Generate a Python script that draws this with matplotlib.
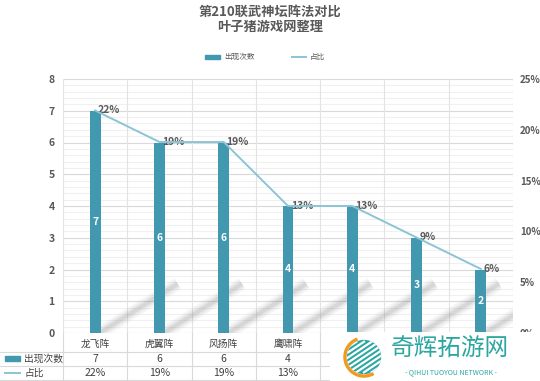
import numpy as np
import matplotlib.pyplot as plt
from matplotlib.transforms import blended_transform_factory
from matplotlib.patches import Rectangle, Circle, Arc

plt.rcParams['font.family'] = ['Noto Sans CJK SC', 'DejaVu Sans']

categories = ['龙飞阵', '虎翼阵', '风扬阵', '鹰啸阵', '蛇蟠阵', '鸟翔阵', '云垂阵']
counts = [7, 6, 6, 4, 4, 3, 2]
share = [0.219, 0.188, 0.188, 0.125, 0.125, 0.094, 0.063]
share_labels = ['22%', '19%', '19%', '13%', '13%', '9%', '6%']

bar_color = '#4198AF'
line_color = '#8DC4D5'
text_gray = '#595959'
grid_major = '#D9D9D9'
grid_minor = '#F0F0F0'

W, H = 540, 381
fig = plt.figure(figsize=(W / 100, H / 100), dpi=100)
ax = fig.add_axes([63 / W, 48 / H, 450 / W, 254 / H])

x = np.arange(len(categories))
ax.set_xlim(-0.5, len(categories) - 0.5)
ax.set_ylim(0, 8)

# gridlines
for v in np.arange(0, 8.01, 0.2):
    major = abs(v - round(v)) < 1e-6
    ax.axhline(v, color=grid_major if major else grid_minor, lw=0.8, zorder=0)
for b in np.arange(-0.5, len(categories), 1):
    ax.axvline(b, color='#E3E3E3', lw=0.8, zorder=0)

# diagonal shadows at bar bases
bw = 0.17
for i, c in enumerate(counts):
    x0 = i + bw / 2
    for lw, a in [(9, 0.07), (6, 0.10), (3, 0.16)]:
        ax.plot([x0, x0 + 1.2], [0.02, 1.55], color='#7F7F7F', lw=lw, alpha=a,
                solid_capstyle='butt', zorder=1)

bars = ax.bar(x, counts, width=bw, color=bar_color, zorder=3)
for i, c in enumerate(counts):
    ax.text(i, c / 2, str(c), color='white', fontsize=7.5, fontweight='bold',
            ha='center', va='center', zorder=4)

ax.set_yticks(range(0, 9))
ax.tick_params(axis='y', length=0, labelsize=7.5, labelcolor=text_gray, pad=6)
for t in ax.get_yticklabels():
    t.set_fontweight('bold')
ax.set_xticks([])
for s in ax.spines.values():
    s.set_visible(False)

ax2 = ax.twinx()
ax2.set_ylim(0, 0.25)
ax2.plot(x, share, color=line_color, lw=1.4, zorder=5)
for i, (v, lab) in enumerate(zip(share, share_labels)):
    ax2.annotate(lab, (i, v), xytext=(2, 0), textcoords='offset points',
                 fontsize=7.5, color=text_gray, fontweight='bold', va='center', ha='left')
pct_ticks = np.arange(0, 0.26, 0.05)
ax2.set_yticks(pct_ticks)
ax2.set_yticklabels([f'{int(round(v * 100))}%' for v in pct_ticks])
ax2.tick_params(axis='y', length=0, labelsize=7, labelcolor=text_gray, pad=5)
for t in ax2.get_yticklabels():
    t.set_fontweight('bold')
for s in ax2.spines.values():
    s.set_visible(False)

# title
fig.text(0.5, 1 - 12 / H, '第210联武神坛阵法对比', ha='center', va='center',
         fontsize=9.5, fontweight='bold', color=text_gray)
fig.text(0.5, 1 - 27 / H, '叶子猪游戏网整理', ha='center', va='center',
         fontsize=9.5, fontweight='bold', color=text_gray)

# legend
fig.patches.append(Rectangle((205 / W, 1 - 59 / H), 15 / W, 4 / H, transform=fig.transFigure,
                             color=bar_color, figure=fig))
fig.text(224 / W, 1 - 57 / H, '出现次数', fontsize=5.5, color=text_gray, va='center')
fig.lines.append(plt.Line2D([292 / W, 306 / W], [1 - 57 / H, 1 - 57 / H], transform=fig.transFigure,
                            color=line_color, lw=1.4, figure=fig))
fig.text(310 / W, 1 - 57 / H, '占比', fontsize=5.5, color=text_gray, va='center')

# data table (columns behind the watermark are not visible)
wm_left = 330
tr = blended_transform_factory(ax.transData, fig.transFigure)
rows_y = [344, 359, 373]
for i, cat in enumerate(categories):
    xc = ax.transData.transform((i, 0))[0]
    if xc > wm_left - 10:
        continue
    ax.text(i, 1 - rows_y[0] / H, cat, transform=tr, ha='center', va='center',
            fontsize=7, color='#404040', clip_on=False)
    ax.text(i, 1 - rows_y[1] / H, str(counts[i]), transform=tr, ha='center', va='center',
            fontsize=7.5, color='#404040', clip_on=False)
    ax.text(i, 1 - rows_y[2] / H, share_labels[i], transform=tr, ha='center', va='center',
            fontsize=7.5, color='#404040', clip_on=False)
for b in np.arange(-0.5, len(categories), 1):
    ax.plot([b, b], [1 - 333 / H, 0], transform=tr, color='#D9D9D9', lw=0.8, clip_on=False)
for yy in [352, 366, 380]:
    fig.lines.append(plt.Line2D([0, 513 / W], [1 - yy / H, 1 - yy / H], transform=fig.transFigure,
                                color='#D9D9D9', lw=0.8, figure=fig))
fig.patches.append(Rectangle((5 / W, 1 - 361 / H), 15 / W, 5 / H, transform=fig.transFigure,
                             color=bar_color, figure=fig))
fig.text(24 / W, 1 - 359 / H, '出现次数', fontsize=7, color='#404040', va='center')
fig.lines.append(plt.Line2D([5 / W, 20 / W], [1 - 373 / H, 1 - 373 / H], transform=fig.transFigure,
                            color=line_color, lw=1.4, figure=fig))
fig.text(24 / W, 1 - 373 / H, '占比', fontsize=7, color='#404040', va='center')

# watermark
fig.patches.append(Rectangle((wm_left / W, 0), (W - wm_left) / W, 49 / H, transform=fig.transFigure,
                             facecolor='white', edgecolor='none', zorder=10, figure=fig))
logo_ax = fig.add_axes([343 / W, 1 - 378 / H, 42 / W, 42 / H], zorder=11)
logo_ax.set_xlim(-1.1, 1.1)
logo_ax.set_ylim(-1.1, 1.1)
logo_ax.set_aspect('equal')
logo_ax.axis('off')
circ = Circle((0, 0), 0.9, facecolor='#2BA6A0', edgecolor='none')
logo_ax.add_patch(circ)
for k in np.linspace(-1.6, 1.6, 9):
    ln, = logo_ax.plot([-1.2 + k, 1.2 + k], [-0.8, 0.8], color='white', lw=1.6)
    ln.set_clip_path(circ)
logo_ax.add_patch(Arc((0, 0), 2.0, 2.0, theta1=110, theta2=300, color='#F39A1E', lw=2.4))
fig.text(450 / W, 1 - 349 / H, '奇辉拓游网', ha='center', va='center', fontsize=17,
         color='#2BA6A0', zorder=12)
fig.text(451 / W, 1 - 372 / H, '- QIHUI TUOYOU NETWORK -', ha='center', va='center',
         fontsize=5, color='#2BA6A0', zorder=12)

fig.savefig('out.png', dpi=100, facecolor='white')
